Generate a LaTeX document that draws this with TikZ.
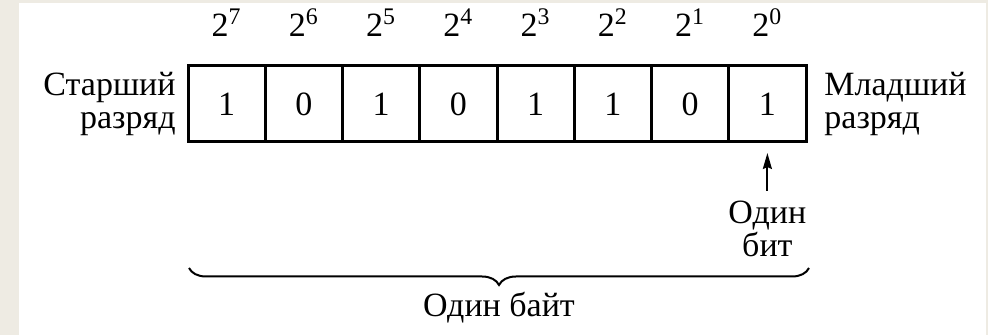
\documentclass[tikz,border=0pt]{standalone}
\usepackage{fontspec}
\setmainfont{Liberation Serif}
\usetikzlibrary{decorations.pathreplacing,arrows.meta}
\definecolor{paper}{HTML}{EEEBE3}

\begin{document}
\begin{tikzpicture}[x=0.5pt,y=0.5pt,
  every node/.style={font=\fontsize{17}{16.5}\selectfont,inner sep=0pt},
  cell/.style={draw,line width=1.5pt,minimum width=38.625pt,minimum height=38pt},
  ptr/.style={line width=1pt,-{Stealth[length=8pt,width=4.5pt,inset=1pt]},shorten <=5pt,shorten >=4.75pt},
  brc/.style={line width=1pt,decorate,decoration={brace,mirror,amplitude=8.5pt}}]
% background: grey page with white sheet
\fill[paper] (0,0) rectangle (988,335);
\fill[white] (19,0) rectangle (986,332);
\useasboundingbox (0,0) rectangle (988,335);
% y positions: box centre, baseline of powers
\def\yc{231}\def\yp{298}
%------------- the byte: eight cells with their weights
\foreach \b [count=\i] in {1,0,1,0,1,1,0,1} {
  \pgfmathsetmacro\xc{188+77.25*(\i-0.5)}
  \pgfmathtruncatemacro\e{8-\i}
  \node[cell] (cell\i) at (\xc,\yc) {\b};
  \node[anchor=base] (pow\i) at (\xc,\yp) {2\textsuperscript{\e}};
}
%------------- side labels
\node[align=right,anchor=east] (senior) at (176,\yc) {Старший\\разряд};
\node[align=left,anchor=west] (junior) at (824,\yc) {Младший\\разряд};
%------------- one bit
\node[align=center,anchor=north] (bit) at (cell8.center |- 0,134) {Один\\бит};
\draw[ptr] (bit.north) -- (cell8.south);
%------------- one byte
\coordinate (brL) at (189,67); \coordinate (brR) at (809,67);
\draw[brc] (brL) -- (brR);
\node[anchor=base] (byte) at (499,18) {Один байт};
\end{tikzpicture}
\end{document}
